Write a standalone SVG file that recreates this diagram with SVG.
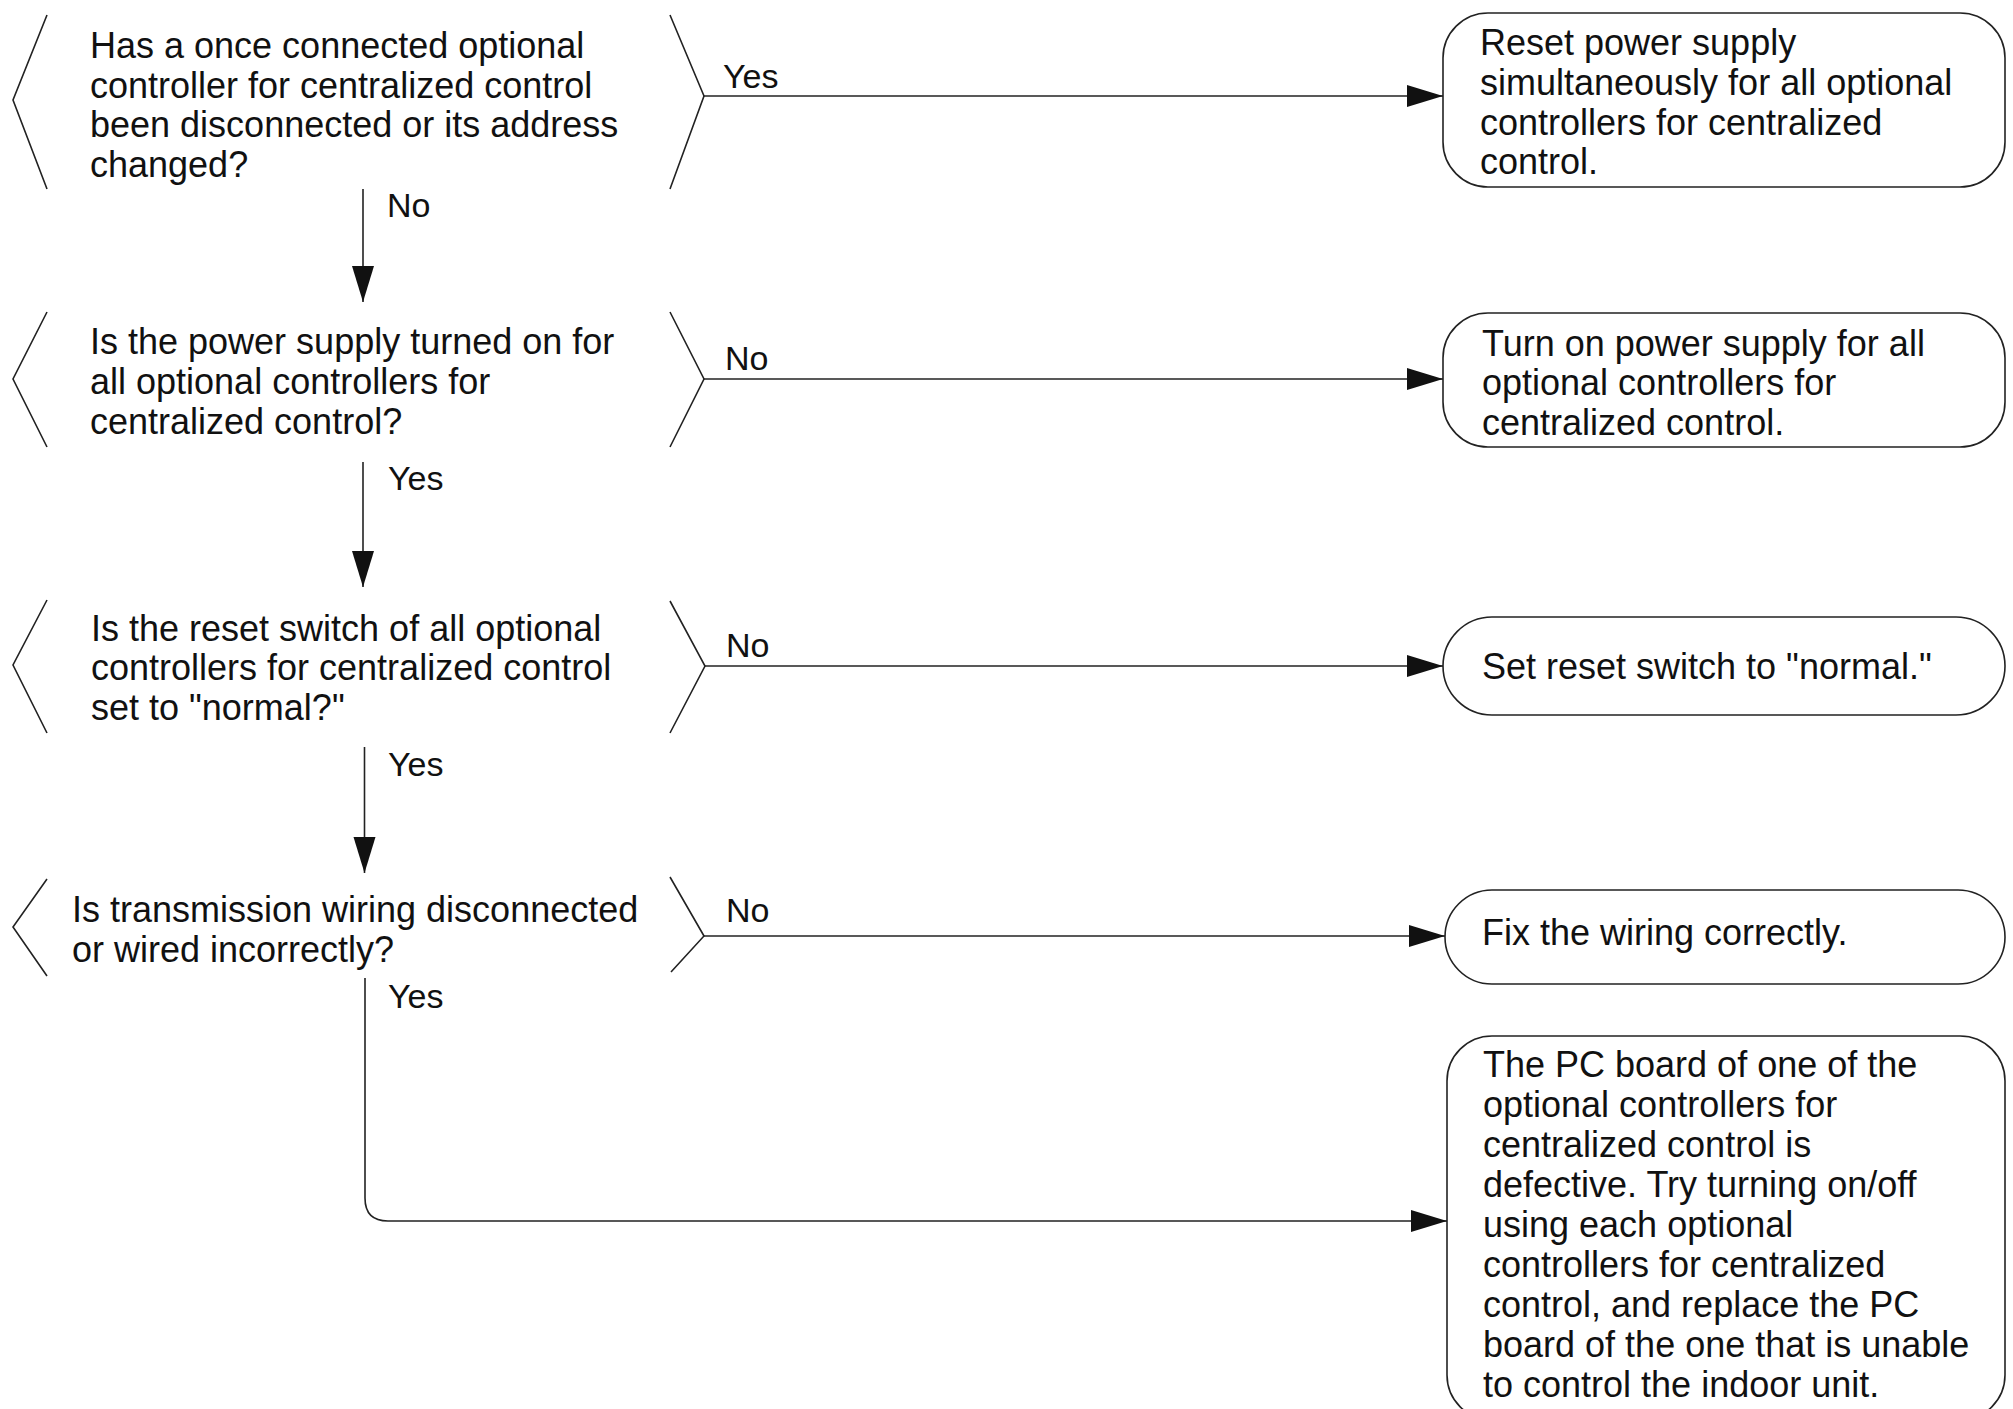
<svg xmlns="http://www.w3.org/2000/svg" width="2013" height="1409" viewBox="0 0 2013 1409">
<defs>
<style>
.t{font-family:"Liberation Sans",Arial,sans-serif;font-size:36px;fill:#111}
.l{font-family:"Liberation Sans",Arial,sans-serif;font-size:34px;fill:#111}
.s{fill:none;stroke:#222;stroke-width:1.6}
.c{fill:none;stroke:#222;stroke-width:1.6}
</style>
<marker id="ah" markerUnits="userSpaceOnUse" markerWidth="36" markerHeight="24" refX="36" refY="12" orient="auto">
<path d="M0,1 L36,12 L0,23 z" fill="#111"/>
</marker>
</defs>
<rect width="2013" height="1409" fill="#fff"/>

<g id="q1">
<path class="s" d="M47,15 L13,100 L47,189"/>
<path class="s" d="M670,15 L704,96 L670,189"/>
<text class="t" x="90" y="58">Has a once connected optional</text>
<text class="t" x="90" y="98">controller for centralized control</text>
<text class="t" x="90" y="137">been disconnected or its address</text>
<text class="t" x="90" y="177">changed?</text>
</g>

<g id="q2">
<path class="s" d="M47,312 L13,379 L47,447"/>
<path class="s" d="M670,312 L704,379 L670,447"/>
<text class="t" x="90" y="354">Is the power supply turned on for</text>
<text class="t" x="90" y="394">all optional controllers for</text>
<text class="t" x="90" y="434">centralized control?</text>
</g>

<g id="q3">
<path class="s" d="M47,600 L13,665 L47,733"/>
<path class="s" d="M670,601 L705,666 L670,733"/>
<text class="t" x="91" y="641">Is the reset switch of all optional</text>
<text class="t" x="91" y="680">controllers for centralized control</text>
<text class="t" x="91" y="720">set to "normal?"</text>
</g>

<g id="q4">
<path class="s" d="M47,879 L13,927 L47,976"/>
<path class="s" d="M670,877 L704,936 L671,972"/>
<text class="t" x="72" y="922">Is transmission wiring disconnected</text>
<text class="t" x="72" y="962">or wired incorrectly?</text>
</g>

<g id="a1">
<rect class="s" x="1443" y="13" width="562" height="174" rx="45" ry="45"/>
<text class="t" x="1480" y="55">Reset power supply</text>
<text class="t" x="1480" y="95">simultaneously for all optional</text>
<text class="t" x="1480" y="135">controllers for centralized</text>
<text class="t" x="1480" y="174">control.</text>
</g>

<g id="a2">
<rect class="s" x="1443" y="313" width="562" height="134" rx="45" ry="45"/>
<text class="t" x="1482" y="356">Turn on power supply for all</text>
<text class="t" x="1482" y="395">optional controllers for</text>
<text class="t" x="1482" y="435">centralized control.</text>
</g>

<g id="a3">
<rect class="s" x="1443" y="617" width="562" height="98" rx="49" ry="49"/>
<text class="t" x="1482" y="679">Set reset switch to "normal."</text>
</g>

<g id="a4">
<rect class="s" x="1445" y="890" width="560" height="94" rx="47" ry="47"/>
<text class="t" x="1482" y="945">Fix the wiring correctly.</text>
</g>

<g id="a5">
<rect class="s" x="1447" y="1036" width="558" height="384" rx="45" ry="45"/>
<text class="t" x="1483" y="1077">The PC board of one of the</text>
<text class="t" x="1483" y="1117">optional controllers for</text>
<text class="t" x="1483" y="1157">centralized control is</text>
<text class="t" x="1483" y="1197">defective. Try turning on/off</text>
<text class="t" x="1483" y="1237">using each optional</text>
<text class="t" x="1483" y="1277">controllers for centralized</text>
<text class="t" x="1483" y="1317">control, and replace the PC</text>
<text class="t" x="1483" y="1357">board of the one that is unable</text>
<text class="t" x="1483" y="1397">to control the indoor unit.</text>
</g>

<g id="connectors">
<path class="c" d="M704,96 H1443" marker-end="url(#ah)"/>
<path class="c" d="M704,379 H1443" marker-end="url(#ah)"/>
<path class="c" d="M705,666 H1443" marker-end="url(#ah)"/>
<path class="c" d="M704,936 H1445" marker-end="url(#ah)"/>
<path class="c" d="M363,189 V302" marker-end="url(#ah)"/>
<path class="c" d="M363,462 V587" marker-end="url(#ah)"/>
<path class="c" d="M364.5,747 V873" marker-end="url(#ah)"/>
<path class="c" d="M365,978 V1198 Q365,1221 388,1221 H1447" marker-end="url(#ah)"/>
<text class="l" x="723" y="88">Yes</text>
<text class="l" x="387" y="217">No</text>
<text class="l" x="725" y="370">No</text>
<text class="l" x="388" y="490">Yes</text>
<text class="l" x="726" y="657">No</text>
<text class="l" x="388" y="776">Yes</text>
<text class="l" x="726" y="922">No</text>
<text class="l" x="388" y="1008">Yes</text>
</g>
</svg>
